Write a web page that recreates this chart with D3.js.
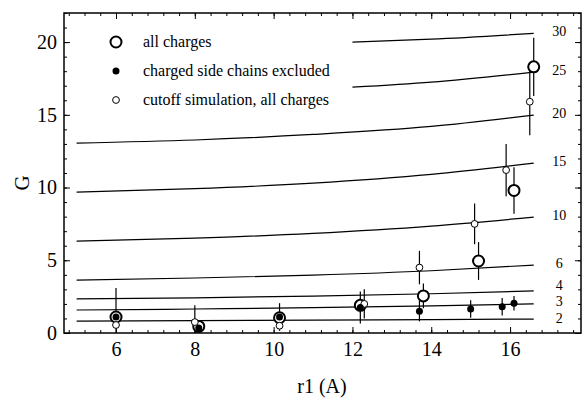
<!DOCTYPE html>
<html>
<head>
<meta charset="utf-8">
<script src="https://cdn.jsdelivr.net/npm/d3@7"></script>
<style>
  body { margin: 0; background: white; }
  svg { display: block; }
  text { font-family: "Liberation Serif", "Times New Roman", serif; fill: black; }
</style>
</head>
<body>
<div id="mydiv"></div>
<script>
// ---- data ----
// all charges (big open circles)
var allR   = [6.0, 8.1, 10.15, 12.2, 13.8, 15.2, 16.1, 16.6];
var allG   = [1.1, 0.45, 1.05, 1.9, 2.55, 4.95, 9.8, 18.3];
var allErr = [2.0, 0.2, 0.2, 0.5, 0.85, 1.3, 1.6, 2.0];

// charged side chains excluded (filled dots)
var exclR   = [6.0, 8.1, 10.15, 12.2, 13.7, 15.0, 15.8, 16.1];
var exclG   = [1.1, 0.35, 1.1, 1.75, 1.5, 1.65, 1.8, 2.05];
var exclErr = [0.3, 0.1, 0.95, 1.1, 0.7, 0.6, 0.6, 0.5];

// cutoff simulation, all charges (small open circles)
var cutR   = [6.0, 8.0, 10.15, 12.3, 13.7, 15.1, 15.9, 16.5];
var cutG   = [0.55, 0.75, 0.5, 2.0, 4.5, 7.5, 11.2, 15.9];
var cutErr = [0.2, 1.15, 0.3, 1.0, 1.15, 1.4, 1.8, 2.3];

// reference curves, labelled on the right
var curveLabels = ["2", "3", "4", "6", "10", "15", "20", "25", "30"];
var curveR = [
  [5, 8, 11, 14, 16.6],
  [5, 8, 11, 14, 16.6],
  [5, 8, 11, 14, 16.6],
  [5, 8, 11, 14, 16.6],
  [5, 8, 11, 14, 16.6],
  [5, 8, 11, 14, 16.6],
  [5, 8, 11, 14, 16.6],
  [12, 14, 16.6],
  [12, 14, 16.6]
];
var curveG = [
  [0.82, 0.85, 0.88, 0.92, 0.96],
  [1.58, 1.65, 1.74, 1.86, 2.0],
  [2.34, 2.42, 2.54, 2.7, 2.89],
  [3.64, 3.78, 3.98, 4.28, 4.67],
  [6.32, 6.52, 6.85, 7.35, 7.97],
  [9.69, 9.92, 10.3, 10.9, 11.68],
  [13.06, 13.27, 13.65, 14.2, 14.98],
  [16.9, 17.25, 17.94],
  [20.0, 20.2, 20.6]
];

var xTicks = [6, 8, 10, 12, 14, 16];
var yTicks = [0, 5, 10, 15, 20];
var legendLabels = ["all charges", "charged side chains excluded", "cutoff simulation, all charges"];

// ---- layout ----
var W = 582, H = 398;
var margin = {top: 13, right: 1, bottom: 65, left: 64};
var width = W - margin.left - margin.right,
    height = H - margin.top - margin.bottom;

var svg = d3.select("#mydiv").append("svg")
  .attr("width", W)
  .attr("height", H)
  .append("g")
  .attr("transform", "translate(" + margin.left + "," + margin.top + ")");

var x = d3.scaleLinear().domain([4.68, 17.8]).range([0, width]);
var y = d3.scaleLinear().domain([0, 22]).range([height, 0]).clamp(true);

// minor tick positions
var xMinor = d3.range(4.8, 17.8, 0.4);
var yMinor = d3.range(0, 23, 1);

function styleAxis(g) {
  g.select(".domain").remove();
  g.selectAll("line").attr("stroke", "black").attr("stroke-width", 1);
  g.selectAll("text").style("font-family", "Liberation Serif, serif").style("font-size", "20px");
}

// bottom axis
svg.append("g").attr("transform", "translate(0," + height + ")")
  .call(d3.axisBottom(x).tickValues(xMinor).tickSizeInner(-3).tickSizeOuter(0).tickFormat(""))
  .call(styleAxis);
svg.append("g").attr("transform", "translate(0," + height + ")")
  .call(d3.axisBottom(x).tickValues(xTicks).tickSizeInner(-6).tickSizeOuter(0).tickPadding(9).tickFormat(d3.format("d")))
  .call(styleAxis);
// top axis
svg.append("g")
  .call(d3.axisTop(x).tickValues(xMinor).tickSizeInner(-3).tickSizeOuter(0).tickFormat(""))
  .call(styleAxis);
svg.append("g")
  .call(d3.axisTop(x).tickValues(xTicks).tickSizeInner(-6).tickSizeOuter(0).tickFormat(""))
  .call(styleAxis);
// left axis
svg.append("g")
  .call(d3.axisLeft(y).tickValues(yMinor).tickSizeInner(-3).tickSizeOuter(0).tickFormat(""))
  .call(styleAxis);
svg.append("g")
  .call(d3.axisLeft(y).tickValues(yTicks).tickSizeInner(-6).tickSizeOuter(0).tickPadding(7).tickFormat(d3.format("d")))
  .call(styleAxis);
// right axis
svg.append("g").attr("transform", "translate(" + width + ",0)")
  .call(d3.axisRight(y).tickValues(yMinor).tickSizeInner(-3).tickSizeOuter(0).tickFormat(""))
  .call(styleAxis);
svg.append("g").attr("transform", "translate(" + width + ",0)")
  .call(d3.axisRight(y).tickValues(yTicks).tickSizeInner(-6).tickSizeOuter(0).tickFormat(""))
  .call(styleAxis);

// frame
svg.append("rect")
  .attr("x", 0).attr("y", 0)
  .attr("width", width).attr("height", height)
  .attr("fill", "none")
  .attr("stroke", "black")
  .attr("stroke-width", 1.5);

// curves
var line = d3.line()
  .x(function(d) { return x(d[0]); })
  .y(function(d) { return y(d[1]); })
  .curve(d3.curveMonotoneX);

var curves = curveLabels.map(function(lab, i) {
  return {label: lab, pts: curveR[i].map(function(r, j) { return [r, curveG[i][j]]; })};
});

svg.selectAll(".curve")
  .data(curves)
  .enter().append("path")
  .attr("class", "curve")
  .attr("d", function(d) { return line(d.pts); })
  .attr("fill", "none")
  .attr("stroke", "black")
  .attr("stroke-width", 1.2);

// label y at end of each curve, pushed apart so they don't collide
var labelGap = 16;
curves.forEach(function(d) { d.ly = y(d.pts[d.pts.length - 1][1]) - 2; });
var sorted = curves.slice().sort(function(a, b) { return b.ly - a.ly; }); // bottom first
for (var k = 1; k < sorted.length; k++) {
  if (sorted[k - 1].ly - sorted[k].ly < labelGap) {
    sorted[k].ly = sorted[k - 1].ly - labelGap;
  }
}
// re-centre the squeezed bottom group a little
sorted[0].ly += 1; sorted[1].ly += 0; sorted[2].ly -= 0;

svg.selectAll(".curve-label")
  .data(curves)
  .enter().append("text")
  .attr("class", "curve-label")
  .attr("x", x(17.25))
  .attr("y", function(d) { return d.ly; })
  .attr("dy", "0.35em")
  .attr("text-anchor", "middle")
  .style("font-size", "14px")
  .text(function(d) { return d.label; });

// points
function zip(rs, gs, es) {
  return rs.map(function(r, i) { return {r: r, g: gs[i], e: es[i]}; });
}
var allData = zip(allR, allG, allErr);
var exclData = zip(exclR, exclG, exclErr);
var cutData = zip(cutR, cutG, cutErr);

// error bars first
[allData, exclData, cutData].forEach(function(set) {
  svg.append("g").selectAll("line")
    .data(set)
    .enter().append("line")
    .attr("x1", function(d) { return x(d.r); })
    .attr("x2", function(d) { return x(d.r); })
    .attr("y1", function(d) { return y(d.g - d.e); })
    .attr("y2", function(d) { return y(d.g + d.e); })
    .attr("stroke", "black")
    .attr("stroke-width", 1.2);
});

svg.append("g").selectAll("circle")
  .data(allData)
  .enter().append("circle")
  .attr("cx", function(d) { return x(d.r); })
  .attr("cy", function(d) { return y(d.g); })
  .attr("r", 5.5)
  .attr("fill", "white")
  .attr("stroke", "black")
  .attr("stroke-width", 2);

svg.append("g").selectAll("circle")
  .data(cutData)
  .enter().append("circle")
  .attr("cx", function(d) { return x(d.r); })
  .attr("cy", function(d) { return y(d.g); })
  .attr("r", 3.4)
  .attr("fill", "white")
  .attr("stroke", "black")
  .attr("stroke-width", 1);

svg.append("g").selectAll("circle")
  .data(exclData)
  .enter().append("circle")
  .attr("cx", function(d) { return x(d.r); })
  .attr("cy", function(d) { return y(d.g); })
  .attr("r", 3.5)
  .attr("fill", "black");

// legend
var legend = svg.append("g").attr("transform", "translate(" + (116 - margin.left) + "," + (42 - margin.top) + ")");
var legendRow = 29;
legend.append("circle").attr("cx", 0).attr("cy", 0).attr("r", 5.5)
  .attr("fill", "white").attr("stroke", "black").attr("stroke-width", 2);
legend.append("circle").attr("cx", 0).attr("cy", legendRow).attr("r", 3.5)
  .attr("fill", "black");
legend.append("circle").attr("cx", 0).attr("cy", 2 * legendRow).attr("r", 3.4)
  .attr("fill", "white").attr("stroke", "black").attr("stroke-width", 1);
legend.selectAll("text")
  .data(legendLabels)
  .enter().append("text")
  .attr("x", 27)
  .attr("y", function(d, i) { return i * legendRow + 5; })
  .style("font-size", "16px")
  .text(function(d) { return d; });

// axis titles
svg.append("text")
  .attr("transform", "translate(" + (22 - margin.left) + "," + (height / 2 + 10) + ") rotate(-90)")
  .attr("text-anchor", "middle")
  .attr("dy", "0.35em")
  .style("font-size", "21px")
  .text("G");

svg.append("text")
  .attr("x", 322 - margin.left)
  .attr("y", 393 - margin.top)
  .attr("text-anchor", "middle")
  .style("font-size", "20px")
  .text("r1 (A)");
</script>
</body>
</html>
